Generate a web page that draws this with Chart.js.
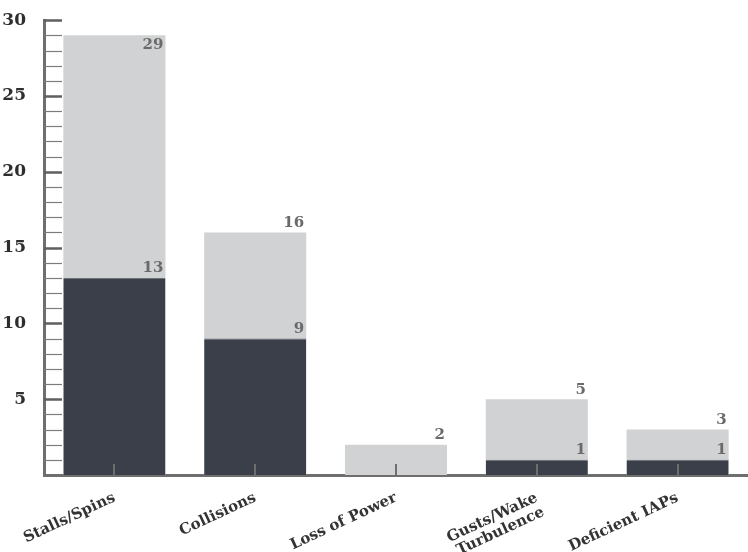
<!DOCTYPE html>
<html>
<head>
<meta charset="utf-8">
<script src="https://cdn.jsdelivr.net/npm/chart.js@4.4.1/dist/chart.umd.min.js"></script>
<style>
    html, body { margin: 0; padding: 0; background: #fff; }
    #accidents { display: block; }
</style>
</head>
<body>
<canvas id="accidents" width="748" height="552"></canvas>
<script>
'use strict';

// accident causes, total accidents vs. fatal ones
const causes = [
    'Stalls/Spins',
    'Collisions',
    'Loss of Power',
    ['Gusts/Wake', 'Turbulence'],
    'Deficient IAPs'
];
const totalAccidents = [29, 16, 2, 5, 3];
const fatalAccidents = [13, 9, 0, 1, 1];
const yMajorTicks = [5, 10, 15, 20, 25, 30];

const serif = '"DejaVu Serif", Georgia, serif';
const axisGray = '#6e6e6e';

// small tick marks drawn inside the plot, like the print version
const insideTicks = {
    id: 'insideTicks',
    afterDatasetsDraw(chart) {
        const {ctx, scales: {x, y}} = chart;
        ctx.save();
        for (const t of y.ticks) {
            if (!t.value) continue;
            const py = Math.round(y.getPixelForValue(t.value)) + 0.5;
            const major = yMajorTicks.includes(t.value);
            ctx.strokeStyle = major ? '#5f5f5f' : '#7c7c7c';
            ctx.lineWidth = major ? 2.5 : 1.2;
            ctx.beginPath();
            ctx.moveTo(x.left, py);
            ctx.lineTo(x.left + 18, py);
            ctx.stroke();
        }
        ctx.strokeStyle = axisGray;
        ctx.lineWidth = 2;
        for (let i = 0; i < causes.length; i++) {
            const px = Math.round(x.getPixelForValue(i));
            ctx.beginPath();
            ctx.moveTo(px, y.bottom);
            ctx.lineTo(px, y.bottom - 11);
            ctx.stroke();
        }
        ctx.restore();
    }
};

// value labels at the top right corner of each bar
const barValues = {
    id: 'barValues',
    afterDatasetsDraw(chart) {
        const {ctx, chartArea} = chart;
        ctx.save();
        ctx.font = 'bold 15px ' + serif;
        ctx.fillStyle = '#6a6a6a';
        ctx.textAlign = 'right';
        chart.data.datasets.forEach((ds, di) => {
            const meta = chart.getDatasetMeta(di);
            meta.data.forEach((bar, i) => {
                const v = ds.data[i];
                if (!v) return;
                const px = bar.x + bar.width / 2 - 2;
                let py = bar.y - 2;
                ctx.textBaseline = 'bottom';
                if (py - 14 < chartArea.top) {
                    py = bar.y + 2;
                    ctx.textBaseline = 'top';
                }
                ctx.fillText(String(v), px, py);
            });
        });
        ctx.restore();
    }
};

const ctx = document.getElementById('accidents').getContext('2d');
const chart = new Chart(ctx, {
    type: 'bar',
    data: {
        labels: causes,
        datasets: [{
            label: 'Fatal',
            data: fatalAccidents,
            backgroundColor: '#3a3f49',
            borderColor: '#6d7178',
            borderWidth: {top: 1, left: 0, right: 0, bottom: 0},
            borderSkipped: false,
            grouped: false,
            barPercentage: 0.725,
            categoryPercentage: 1
        }, {
            label: 'Total',
            data: totalAccidents,
            backgroundColor: '#d1d2d4',
            grouped: false,
            barPercentage: 0.725,
            categoryPercentage: 1
        }]
    },
    options: {
        responsive: false,
        animation: false,
        layout: {padding: {top: 8, right: 0, left: 0, bottom: 0}},
        plugins: {
            legend: {display: false},
            tooltip: {enabled: false}
        },
        scales: {
            x: {
                grid: {display: false},
                border: {display: true, color: axisGray, width: 3},
                ticks: {
                    autoSkip: false,
                    minRotation: 25,
                    maxRotation: 25,
                    padding: 7,
                    color: '#333',
                    font: {family: serif, size: 15, weight: 'bold', lineHeight: 1.05}
                },
                afterFit(scale) {
                    scale.height = 77;
                }
            },
            y: {
                min: 0,
                max: 30,
                grid: {display: false},
                border: {display: true, color: axisGray, width: 3},
                ticks: {
                    stepSize: 1,
                    autoSkip: false,
                    padding: 10,
                    color: '#2e2e2e',
                    font: {family: serif, size: 17, weight: 'bold'},
                    callback: v => yMajorTicks.includes(v) ? v : ''
                },
                afterFit(scale) {
                    scale.width = 44;
                }
            }
        }
    },
    plugins: [insideTicks, barValues]
});
</script>
</body>
</html>
